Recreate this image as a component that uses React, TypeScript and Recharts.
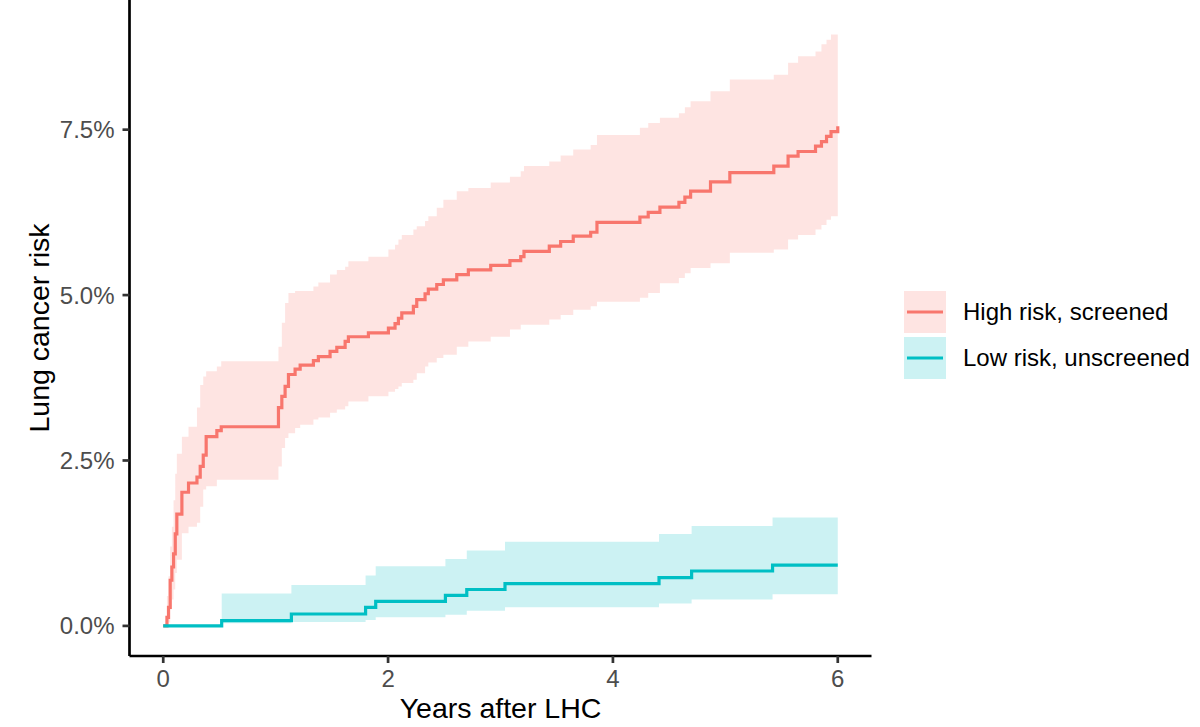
import React from 'react';
import { ComposedChart, Area, Line, XAxis, YAxis } from 'recharts';

const FONT = '"Liberation Sans", Arial, Helvetica, sans-serif';

const seriesNames = ['High risk, screened', 'Low risk, unscreened'];
const seriesColors = ['#F8766D', '#00BFC4'];

const xTicks = [0, 2, 4, 6];
const yTicks = [0, 2.5, 5, 7.5];
const yTickLabels = ['0.0%', '2.5%', '5.0%', '7.5%'];
const xTitle = 'Years after LHC';
const yTitle = 'Lung cancer risk';

// High risk, screened (years, % risk)
const highTimes = [
  0, 0.033, 0.047, 0.062, 0.077, 0.092, 0.107, 0.121, 0.166, 0.225, 0.3, 0.329, 0.356, 0.382, 0.477, 0.516,
  1.025, 1.055, 1.084, 1.114, 1.173, 1.218, 1.336, 1.38, 1.484, 1.544, 1.618, 1.647, 1.825, 2.003, 2.062, 2.092,
  2.122, 2.225, 2.255, 2.329, 2.358, 2.433, 2.492, 2.611, 2.714, 2.913, 3.084, 3.18, 3.209, 3.434, 3.535, 3.647,
  3.802, 3.858, 4.24, 4.314, 4.418, 4.587, 4.64, 4.691, 4.868, 5.04, 5.431, 5.558, 5.647, 5.802, 5.855, 5.9,
  5.94, 6.0,
];
const highEst = [
  0, 0.13, 0.28, 0.69, 0.89, 1.09, 1.39, 1.69, 2.02, 2.16, 2.25, 2.41, 2.58, 2.86, 2.95, 3.01,
  3.3, 3.47, 3.62, 3.8, 3.88, 3.94, 4.01, 4.07, 4.15, 4.21, 4.3, 4.37, 4.43, 4.5, 4.57, 4.65,
  4.73, 4.83, 4.93, 5.02, 5.09, 5.16, 5.23, 5.31, 5.38, 5.45, 5.52, 5.58, 5.66, 5.74, 5.81, 5.89,
  5.95, 6.1, 6.18, 6.25, 6.33, 6.4, 6.48, 6.57, 6.71, 6.85, 6.95, 7.1, 7.17, 7.25, 7.32, 7.4,
  7.47, 7.55,
];
const highLower = [
  0, 0, 0.05, 0.25, 0.4, 0.55, 0.8, 1.0, 1.4, 1.5, 1.56, 1.8, 2.06, 2.11, 2.21, 2.21,
  2.41, 2.69, 2.84, 2.91, 2.99, 3.04, 3.12, 3.15, 3.22, 3.27, 3.32, 3.39, 3.47, 3.54, 3.58, 3.62,
  3.67, 3.72, 3.82, 3.92, 3.98, 4.05, 4.1, 4.22, 4.3, 4.37, 4.48, 4.55, 4.55, 4.63, 4.7, 4.78,
  4.83, 4.9, 4.96, 5.03, 5.18, 5.26, 5.33, 5.41, 5.48, 5.64, 5.69, 5.84, 5.91, 5.99, 6.06, 6.14,
  6.19, 6.19,
];
const highUpper = [
  0, 0.45, 0.75, 1.2, 1.5, 1.9, 2.3, 2.6, 2.86, 3.01, 3.3, 3.64, 3.77, 3.85, 3.92, 4.0,
  4.22, 4.58, 4.88, 5.03, 5.06, 5.06, 5.13, 5.19, 5.31, 5.38, 5.43, 5.51, 5.58, 5.69, 5.76, 5.84,
  5.91, 5.99, 6.04, 6.12, 6.19, 6.32, 6.44, 6.57, 6.62, 6.7, 6.79, 6.87, 6.95, 7.02, 7.11, 7.2,
  7.27, 7.42, 7.53, 7.6, 7.68, 7.75, 7.84, 7.93, 8.08, 8.26, 8.33, 8.51, 8.61, 8.68, 8.79, 8.86,
  8.94, 9.01,
];

// Low risk, unscreened
const lowTimes = [0, 0.52, 1.14, 1.8, 1.89, 2.51, 2.7, 3.04, 4.41, 4.7, 5.42, 6.0];
const lowEst = [0, 0.08, 0.18, 0.28, 0.37, 0.46, 0.55, 0.64, 0.73, 0.83, 0.92, 0.92];
const lowLower = [0, 0.04, 0.06, 0.09, 0.13, 0.17, 0.23, 0.28, 0.34, 0.4, 0.48, 0.48];
const lowUpper = [0, 0.49, 0.62, 0.76, 0.9, 1.01, 1.14, 1.27, 1.39, 1.51, 1.64, 1.64];

const build = (times: number[], est: number[], lo: number[], hi: number[]) =>
  times.map((t, i) => ({ t, est: est[i], band: [lo[i], hi[i]] }));

const highData = build(highTimes, highEst, highLower, highUpper);
const lowData = build(lowTimes, lowEst, lowLower, lowUpper);
const seriesData = [highData, lowData];

const YTitle = (props: any) => {
  const vb = props && props.viewBox ? props.viewBox : { x: 0, y: 0, width: 129.5, height: 656 };
  const cx = vb.x + 48.5;
  const cy = vb.y + vb.height / 2;
  return (
    <text
      transform={`translate(${cx}, ${cy}) rotate(-90)`}
      textAnchor="middle"
      fontSize={28.5}
      fontFamily={FONT}
      fill="#000000"
    >
      {yTitle}
    </text>
  );
};

const XTitle = (props: any) => {
  const vb = props && props.viewBox ? props.viewBox : { x: 129.5, y: 656, width: 742, height: 71 };
  return (
    <text
      x={vb.x + vb.width / 2}
      y={vb.y + 62.3}
      textAnchor="middle"
      fontSize={28.5}
      fontFamily={FONT}
      fill="#000000"
    >
      {xTitle}
    </text>
  );
};

const tickStyle = { fill: '#4D4D4D', fontSize: 24, fontFamily: FONT };

export default function App() {
  return (
    <div style={{ position: 'absolute', left: 0, top: 0, width: 1200, height: 727, background: '#fff' }}>
      <ComposedChart width={1200} height={727} margin={{ top: 0, right: 328.5, bottom: 0, left: 0 }}>
        <XAxis
          type="number"
          dataKey="t"
          domain={[-0.3, 6.3]}
          allowDataOverflow
          ticks={xTicks}
          height={71}
          axisLine={{ stroke: '#000', strokeWidth: 2.7 }}
          tickLine={{ stroke: '#333333', strokeWidth: 2.7 }}
          tickSize={7}
          tickMargin={7}
          tick={tickStyle}
          label={<XTitle />}
        />
        <YAxis
          type="number"
          domain={[-0.455, 9.46]}
          allowDataOverflow
          ticks={yTicks}
          width={129.5}
          axisLine={{ stroke: '#000', strokeWidth: 2.7 }}
          tickLine={{ stroke: '#333333', strokeWidth: 2.7 }}
          tickSize={7}
          tickMargin={8}
          tick={tickStyle}
          tickFormatter={(v: number) => yTickLabels[yTicks.indexOf(v)] ?? String(v)}
          label={<YTitle />}
        />
        {seriesData.map((d, i) => (
          <Area
            key={`band-${i}`}
            data={d}
            dataKey="band"
            type="stepAfter"
            stroke="none"
            fill={seriesColors[i]}
            fillOpacity={0.2}
            isAnimationActive={false}
            dot={false}
            activeDot={false}
          />
        ))}
        {seriesData.map((d, i) => (
          <Line
            key={`line-${i}`}
            data={d}
            dataKey="est"
            type="stepAfter"
            stroke={seriesColors[i]}
            strokeWidth={3.2}
            dot={false}
            activeDot={false}
            isAnimationActive={false}
          />
        ))}
      </ComposedChart>
      <div style={{ position: 'absolute', left: 904, top: 291, fontFamily: FONT }}>
        {seriesNames.map((name, i) => (
          <div key={name} style={{ display: 'flex', alignItems: 'center', height: 42, marginBottom: 4 }}>
            <svg width={42} height={42} style={{ display: 'block' }}>
              <rect x={0} y={0} width={42} height={42} fill={seriesColors[i]} fillOpacity={0.2} />
              <line x1={3} x2={39} y1={21} y2={21} stroke={seriesColors[i]} strokeWidth={3.2} />
            </svg>
            <span style={{ marginLeft: 17, fontSize: 24, color: '#000', whiteSpace: 'nowrap' }}>{name}</span>
          </div>
        ))}
      </div>
    </div>
  );
}
